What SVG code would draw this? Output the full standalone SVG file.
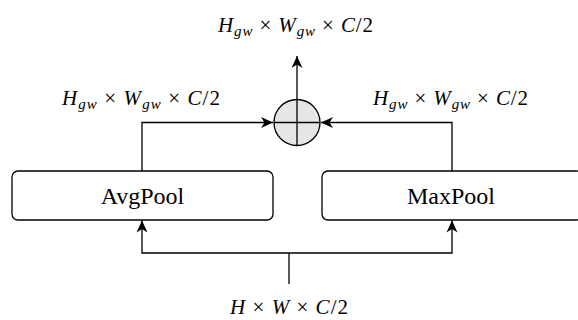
<svg xmlns="http://www.w3.org/2000/svg" width="578" height="320" viewBox="0 0 578 320">
<style>
  .box { fill: #ffffff; stroke: #000000; stroke-width: 1.3; }
  .line { fill: none; stroke: #000000; stroke-width: 1.3; }
  .lbl { font-family: 'Liberation Serif', 'Times New Roman', serif; font-size: 24px; fill: #000; text-anchor: middle; }
  .math { font-family: 'Liberation Serif', 'Times New Roman', serif; font-size: 21px; fill: #000; }
  .it { font-style: italic; }
  .sub { font-style: italic; font-size: 15px; }
</style>
<defs>
  <marker id="arr" viewBox="0 0 12 12" refX="12" refY="6" markerWidth="12" markerHeight="12" markerUnits="userSpaceOnUse" orient="auto">
    <path d="M0,0.5 L12,6 L0,11.5 L3.5,6 Z" fill="#000"/>
  </marker>
</defs>
<g id="connectors">
  <path class="line" d="M142,171 V122.5 H273" marker-end="url(#arr)"/>
  <path class="line" d="M452,171 V122.5 H321" marker-end="url(#arr)"/>
  <path class="line" d="M297,99.5 V56" marker-end="url(#arr)"/>
  <path class="line" d="M289,284 V253"/>
  <path class="line" d="M289,253 H142 V220.5" marker-end="url(#arr)"/>
  <path class="line" d="M289,253 H452 V220.5" marker-end="url(#arr)"/>
</g>
<g id="sum">
  <circle cx="297" cy="122.5" r="23" fill="#e6e6e6" stroke="#000" stroke-width="1.3"/>
  <path class="line" d="M297,99.5 V145.5 M274,122.5 H320"/>
</g>
<g id="avgpool">
  <rect class="box" x="12" y="171" width="261" height="49" rx="6"/>
  <text class="lbl" x="142.5" y="204">AvgPool</text>
</g>
<g id="maxpool">
  <rect class="box" x="322" y="171" width="261" height="49" rx="6"/>
  <text class="lbl" x="451" y="204">MaxPool</text>
</g>
<g id="labels">
  <text class="math" x="218" y="32" textLength="155" lengthAdjust="spacing"><tspan class="it">H</tspan><tspan class="sub" dy="4">gw</tspan><tspan dy="-4"> × </tspan><tspan class="it">W</tspan><tspan class="sub" dy="4">gw</tspan><tspan dy="-4"> × </tspan><tspan class="it">C</tspan><tspan>/2</tspan></text>
  <text class="math" x="62" y="105" textLength="158" lengthAdjust="spacing"><tspan class="it">H</tspan><tspan class="sub" dy="4">gw</tspan><tspan dy="-4"> × </tspan><tspan class="it">W</tspan><tspan class="sub" dy="4">gw</tspan><tspan dy="-4"> × </tspan><tspan class="it">C</tspan><tspan>/2</tspan></text>
  <text class="math" x="373" y="105" textLength="155" lengthAdjust="spacing"><tspan class="it">H</tspan><tspan class="sub" dy="4">gw</tspan><tspan dy="-4"> × </tspan><tspan class="it">W</tspan><tspan class="sub" dy="4">gw</tspan><tspan dy="-4"> × </tspan><tspan class="it">C</tspan><tspan>/2</tspan></text>
  <text class="math" x="230" y="314" textLength="118" lengthAdjust="spacing"><tspan class="it">H</tspan><tspan> × </tspan><tspan class="it">W</tspan><tspan> × </tspan><tspan class="it">C</tspan><tspan>/2</tspan></text>
</g>
</svg>
